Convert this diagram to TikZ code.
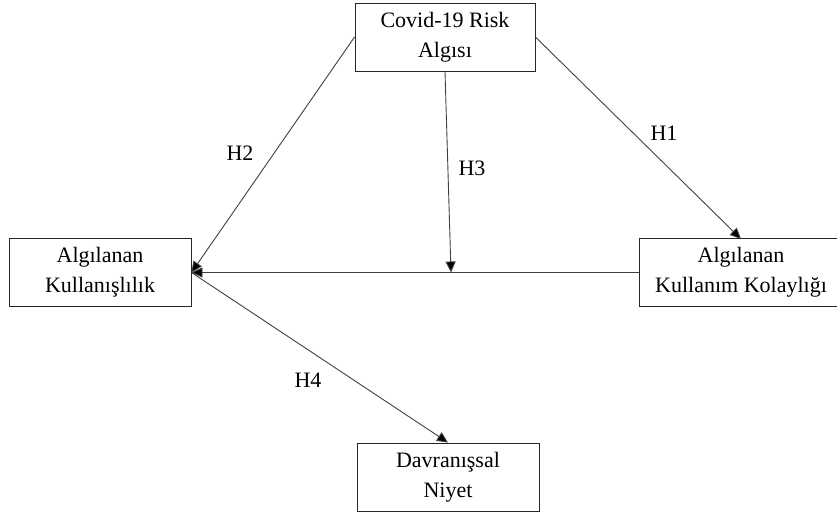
\documentclass[tikz,border=0pt]{standalone}
\usepackage{fontspec}
\setmainfont{Liberation Serif}
\usetikzlibrary{arrows.meta}
\begin{document}
\begin{tikzpicture}[x=1pt,y=-1pt,
  box/.style={draw=black!85,line width=0.9pt,minimum width=#1,minimum height=68pt,inner sep=0pt,align=center,font=\fontsize{22}{30}\selectfont},
  txt/.style={inner sep=0pt,align=center,font=\fontsize{22}{30}\selectfont},
  conn/.style={draw=black!75,line width=0.9pt,-{Triangle[length=11pt,width=10pt,fill=black]}},
  lab/.style={font=\fontsize{22}{25}\selectfont,inner sep=0pt}]
\useasboundingbox (0,0) rectangle (837,515);
\clip (0,0) rectangle (837,515);
\node[box=180pt] (cov) at (445,37) {Covid-19 Risk\\Algısı};
\node[box=182pt] (ak) at (100,272.5) {Algılanan\\Kullanışlılık};
\node[box=240pt] (kk) at (759,272.5) {};
\node[txt] (kkt) at (741,272.5) {Algılanan\\Kullanım Kolaylığı};
\node[box=182pt] (dn) at (448,477) {Davranışsal\\Niyet};
\coordinate (m) at (451,272.5);
\coordinate (kktop) at (741,239);
\draw[conn] (cov.west) -- (ak.east);
\draw[conn] (cov.east) -- (kktop);
\draw[conn] (cov.south) -- (m);
\draw[conn] (kk.west) -- (ak.east);
\draw[conn] (ak.east) -- (dn.north);
\node[lab] (h2) at (240,153) {H2};
\node[lab] (h3) at (472,168) {H3};
\node[lab] (h1) at (664,133) {H1};
\node[lab] (h4) at (308,380) {H4};
\end{tikzpicture}
\end{document}
